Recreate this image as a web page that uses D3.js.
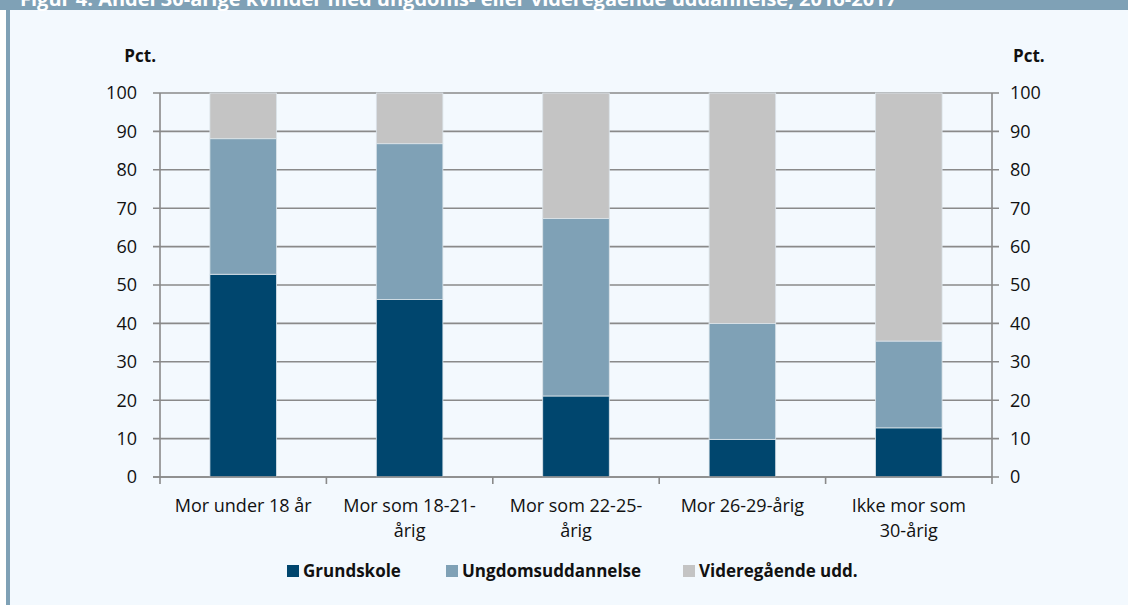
<!DOCTYPE html>
<html>
<head>
<meta charset="utf-8">
<script src="https://cdn.jsdelivr.net/npm/d3@7"></script>
<style>
  html, body { margin: 0; padding: 0; background: #ffffff; }
  svg { display: block; font-family: "Open Sans", sans-serif; }
</style>
</head>
<body>
<svg id="chart" width="1128" height="605"></svg>
<script>
const title = "Figur 4. Andel 30-årige kvinder med ungdoms- eller videregående uddannelse, 2016-2017";
const categories = [
  ["Mor under 18 år"],
  ["Mor som 18-21-", "årig"],
  ["Mor som 22-25-", "årig"],
  ["Mor 26-29-årig"],
  ["Ikke mor som", "30-årig"]
];
const seriesNames = ["Grundskole", "Ungdomsuddannelse", "Videregående udd."];
const grundskole = [52.8, 46.2, 21.1, 9.8, 12.8];
const ungdom = [35.3, 40.6, 46.2, 30.2, 22.6];
const videregaaende = [11.9, 13.2, 32.7, 60.0, 64.6];
const yTicks = [0, 10, 20, 30, 40, 50, 60, 70, 80, 90, 100];

const colors = ["#00466e", "#7fa1b6", "#c4c4c4"];

const svg = d3.select("#chart");
const W = 1128, H = 605;
const margin = { top: 93, right: 136, bottom: 128, left: 160 };
const chartW = W - margin.left - margin.right;
const chartH = H - margin.top - margin.bottom;

// frame
svg.append("rect").attr("x", 10).attr("y", 10).attr("width", W - 10).attr("height", H - 10).attr("fill", "#f3f9fe");
svg.append("rect").attr("x", 0).attr("y", 0).attr("width", W).attr("height", 10).attr("fill", "#7fa1b6");
svg.append("rect").attr("x", 6).attr("y", 10).attr("width", 4).attr("height", H - 10).attr("fill", "#7fa1b6");
// title sits mostly above the visible area, as in the source
svg.append("text")
  .attr("x", 20).attr("y", 6)
  .attr("fill", "#ffffff")
  .attr("font-weight", "bold")
  .attr("font-size", 20)
  .text(title);

const rows = categories.map((c, i) => ({
  key: i,
  Grundskole: grundskole[i],
  Ungdomsuddannelse: ungdom[i],
  "Videregående udd.": videregaaende[i]
}));
const stacked = d3.stack().keys(seriesNames)(rows);

const x = d3.scaleBand()
  .domain(categories.map((c, i) => i))
  .range([0, chartW])
  .paddingInner(0.6)
  .paddingOuter(0.3);
const xEdge = d3.scaleLinear().domain([0, categories.length]).range([0, chartW]);
const y = d3.scaleLinear().domain([0, 100]).range([chartH, 0]);

const g = svg.append("g").attr("transform", `translate(${margin.left},${margin.top})`);

// gridlines (extend into tick marks on both sides)
g.append("g")
  .selectAll("line")
  .data(yTicks)
  .join("line")
  .attr("x1", -7).attr("x2", chartW + 7)
  .attr("y1", d => y(d)).attr("y2", d => y(d))
  .attr("stroke", "#8a8a8a")
  .attr("stroke-width", 1.6);

// bars
g.append("g")
  .selectAll("g")
  .data(stacked)
  .join("g")
  .attr("fill", (d, i) => colors[i])
  .selectAll("rect")
  .data(d => d)
  .join("rect")
  .attr("x", d => x(d.data.key))
  .attr("y", d => y(d[1]))
  .attr("width", x.bandwidth())
  .attr("height", d => y(d[0]) - y(d[1]))
  .attr("stroke", "#dbe4ea")
  .attr("stroke-width", 0.8);

// axes lines
const axisColor = "#8a8a8a";
g.append("line").attr("x1", 0).attr("x2", 0).attr("y1", 0).attr("y2", chartH)
  .attr("stroke", axisColor).attr("stroke-width", 1.6);
g.append("line").attr("x1", chartW).attr("x2", chartW).attr("y1", 0).attr("y2", chartH)
  .attr("stroke", axisColor).attr("stroke-width", 1.6);
g.append("line").attr("x1", -7).attr("x2", chartW).attr("y1", chartH).attr("y2", chartH)
  .attr("stroke", axisColor).attr("stroke-width", 1.6);

// category ticks at band edges
g.append("g")
  .selectAll("line")
  .data(d3.range(categories.length + 1))
  .join("line")
  .attr("x1", d => xEdge(d)).attr("x2", d => xEdge(d))
  .attr("y1", chartH).attr("y2", chartH + 7)
  .attr("stroke", axisColor).attr("stroke-width", 1.6);

// y tick labels, left and right
g.append("g")
  .selectAll("text")
  .data(yTicks)
  .join("text")
  .attr("x", -23).attr("y", d => y(d))
  .attr("dy", "0.35em")
  .attr("text-anchor", "end")
  .attr("font-size", 18)
  .attr("fill", "#111")
  .text(d => d);
g.append("g")
  .selectAll("text")
  .data(yTicks)
  .join("text")
  .attr("x", chartW + 18).attr("y", d => y(d))
  .attr("dy", "0.35em")
  .attr("text-anchor", "start")
  .attr("font-size", 18)
  .attr("fill", "#111")
  .text(d => d);

// unit labels
g.append("text").attr("x", -4).attr("y", -31).attr("text-anchor", "end")
  .attr("font-size", 17).attr("font-weight", "bold").attr("fill", "#111").text("Pct.");
g.append("text").attr("x", chartW + 21).attr("y", -31).attr("text-anchor", "start")
  .attr("font-size", 17).attr("font-weight", "bold").attr("fill", "#111").text("Pct.");

// category labels
g.append("g")
  .selectAll("text")
  .data(categories)
  .join("text")
  .attr("x", (d, i) => x(i) + x.bandwidth() / 2)
  .attr("y", chartH + 35)
  .attr("text-anchor", "middle")
  .attr("font-size", 18)
  .attr("fill", "#111")
  .selectAll("tspan")
  .data(d => d)
  .join("tspan")
  .attr("x", function () { return d3.select(this.parentNode).attr("x"); })
  .attr("dy", (d, i) => i === 0 ? 0 : 25)
  .text(d => d);

// legend
const legendX = [287, 446, 683];
const legend = svg.append("g").attr("transform", "translate(0,571)");
const item = legend.selectAll("g")
  .data(seriesNames)
  .join("g")
  .attr("transform", (d, i) => `translate(${legendX[i]},0)`);
item.append("rect")
  .attr("x", 0).attr("y", -6).attr("width", 12).attr("height", 12)
  .attr("fill", (d, i) => colors[i]);
item.append("text")
  .attr("x", 16).attr("y", 0).attr("dy", "0.35em")
  .attr("font-size", 17).attr("font-weight", "bold").attr("fill", "#111")
  .text(d => d);
</script>
</body>
</html>
